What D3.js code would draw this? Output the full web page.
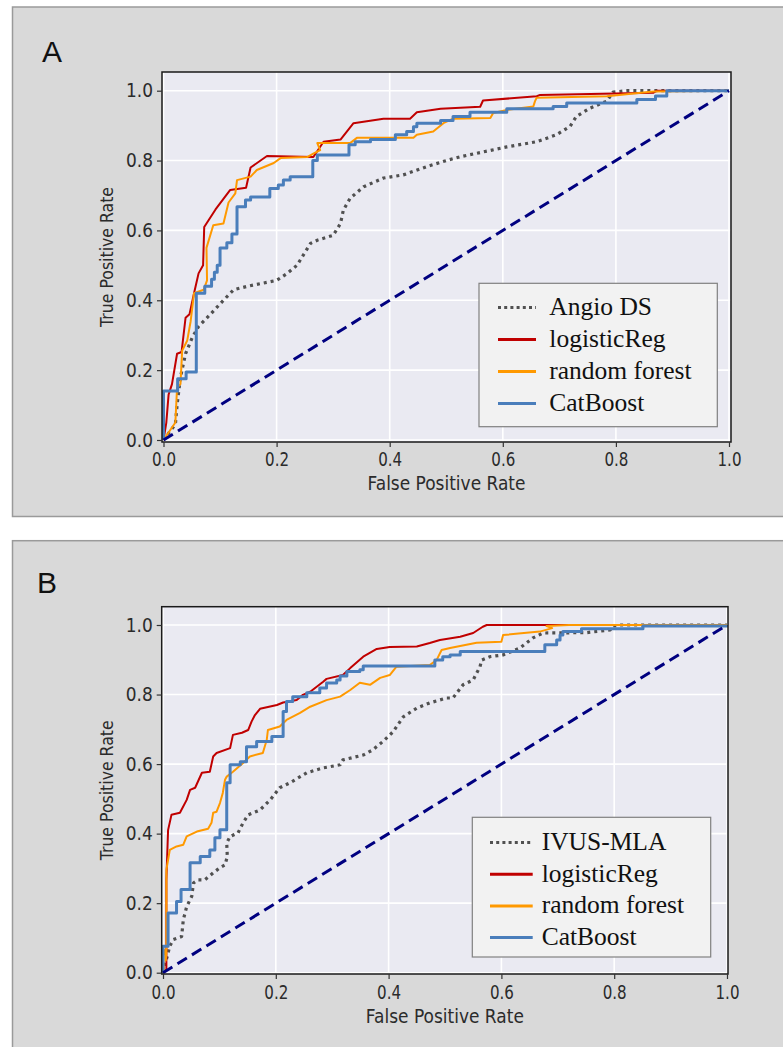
<!DOCTYPE html>
<html><head><meta charset="utf-8">
<script src="https://cdn.jsdelivr.net/npm/d3@7/dist/d3.min.js"></script>
<style>html,body{margin:0;padding:0;background:#fff;}</style>
</head><body>
<svg id="chart" width="783" height="1047"></svg>
<script>
// ---------------- DATA ----------------
const tickValues = [0, 0.2, 0.4, 0.6, 0.8, 1.0];
const xLabel = "False Positive Rate";
const yLabel = "True Positive Rate";
const namesA = ["Angio DS", "logisticReg", "random forest", "CatBoost"];
const namesB = ["IVUS-MLA", "logisticReg", "random forest", "CatBoost"];

// Panel A  [FPR, TPR]
const angioA = [[0,0],[0.021,0.045],[0.024,0.1],[0.03,0.18],[0.039,0.247],[0.051,0.294],[0.062,0.325],[0.083,0.36],[0.106,0.4],[0.124,0.43],[0.148,0.44],[0.2,0.457],[0.218,0.476],[0.236,0.5],[0.26,0.563],[0.272,0.572],[0.3,0.586],[0.313,0.62],[0.318,0.658],[0.33,0.692],[0.354,0.725],[0.389,0.75],[0.424,0.759],[0.466,0.783],[0.5,0.8],[0.525,0.811],[0.607,0.839],[0.66,0.854],[0.695,0.874],[0.719,0.898],[0.73,0.926],[0.754,0.95],[0.784,0.97],[0.795,0.996],[0.82,1.0],[1,1]];
const logRegA = [[0,0],[0.005,0.05],[0.009,0.13],[0.015,0.16],[0.024,0.247],[0.032,0.252],[0.039,0.35],[0.046,0.36],[0.054,0.42],[0.062,0.477],[0.07,0.5],[0.072,0.61],[0.08,0.63],[0.092,0.66],[0.118,0.716],[0.146,0.722],[0.154,0.78],[0.183,0.813],[0.265,0.81],[0.283,0.854],[0.313,0.86],[0.336,0.907],[0.389,0.92],[0.436,0.92],[0.448,0.938],[0.49,0.948],[0.56,0.954],[0.565,0.972],[0.66,0.984],[0.666,0.988],[0.866,0.994],[0.872,1.0],[1,1]];
const rfA = [[0,0],[0.021,0.05],[0.024,0.15],[0.03,0.16],[0.033,0.256],[0.042,0.285],[0.048,0.34],[0.054,0.42],[0.071,0.43],[0.077,0.457],[0.076,0.55],[0.088,0.615],[0.106,0.62],[0.115,0.68],[0.127,0.706],[0.13,0.744],[0.154,0.754],[0.165,0.773],[0.195,0.793],[0.207,0.807],[0.254,0.81],[0.265,0.82],[0.277,0.83],[0.272,0.85],[0.33,0.85],[0.342,0.865],[0.442,0.865],[0.448,0.874],[0.477,0.883],[0.495,0.907],[0.512,0.92],[0.578,0.922],[0.583,0.936],[0.607,0.945],[0.654,0.955],[0.657,0.97],[0.66,0.98],[0.784,0.984],[0.866,0.998],[1,1]];
const catA = [[0,0],[0,0.14],[0.025,0.175],[0.04,0.195],[0.058,0.42],[0.073,0.44],[0.085,0.46],[0.09,0.48],[0.095,0.5],[0.1,0.55],[0.112,0.565],[0.121,0.59],[0.13,0.668],[0.145,0.687],[0.154,0.696],[0.188,0.72],[0.203,0.73],[0.212,0.744],[0.224,0.754],[0.264,0.8],[0.272,0.816],[0.328,0.845],[0.339,0.854],[0.366,0.86],[0.41,0.874],[0.43,0.883],[0.442,0.897],[0.448,0.907],[0.49,0.915],[0.512,0.926],[0.542,0.938],[0.607,0.948],[0.689,0.955],[0.713,0.965],[0.837,0.975],[0.87,0.985],[0.89,1.0],[1,1]];

// Panel B  [FPR, TPR]
const ivusB = [[0,0],[0.012,0.076],[0.018,0.095],[0.033,0.104],[0.036,0.152],[0.042,0.19],[0.051,0.22],[0.054,0.258],[0.062,0.267],[0.074,0.267],[0.089,0.287],[0.101,0.302],[0.11,0.31],[0.114,0.334],[0.113,0.373],[0.119,0.392],[0.133,0.402],[0.142,0.431],[0.151,0.454],[0.172,0.468],[0.19,0.497],[0.207,0.532],[0.225,0.546],[0.255,0.575],[0.284,0.589],[0.314,0.598],[0.319,0.612],[0.355,0.626],[0.372,0.641],[0.39,0.665],[0.408,0.693],[0.426,0.736],[0.45,0.761],[0.473,0.776],[0.503,0.79],[0.514,0.79],[0.532,0.828],[0.55,0.842],[0.562,0.88],[0.565,0.899],[0.58,0.909],[0.603,0.914],[0.633,0.934],[0.656,0.963],[0.674,0.977],[0.751,0.978],[0.793,0.986],[0.798,0.997],[0.81,1.0],[1,1]];
const logRegB = [[0,0],[0.006,0.009],[0.006,0.267],[0.009,0.41],[0.015,0.454],[0.03,0.46],[0.042,0.497],[0.048,0.526],[0.057,0.532],[0.069,0.575],[0.083,0.578],[0.089,0.622],[0.095,0.632],[0.119,0.646],[0.124,0.684],[0.14,0.69],[0.151,0.698],[0.157,0.722],[0.163,0.741],[0.172,0.759],[0.202,0.77],[0.213,0.777],[0.237,0.784],[0.248,0.799],[0.261,0.808],[0.284,0.837],[0.29,0.845],[0.319,0.856],[0.332,0.876],[0.355,0.909],[0.379,0.931],[0.402,0.937],[0.45,0.938],[0.473,0.948],[0.491,0.957],[0.527,0.966],[0.55,0.977],[0.567,0.995],[0.574,1.0],[1,1]];
const rfB = [[0.002,0],[0,0.05],[0.003,0.065],[0.005,0.035],[0.006,0.06],[0.006,0.296],[0.012,0.353],[0.024,0.363],[0.036,0.368],[0.042,0.392],[0.06,0.406],[0.08,0.414],[0.086,0.431],[0.089,0.46],[0.095,0.463],[0.101,0.488],[0.106,0.517],[0.11,0.555],[0.113,0.564],[0.124,0.578],[0.142,0.603],[0.154,0.622],[0.177,0.632],[0.184,0.67],[0.186,0.698],[0.207,0.708],[0.219,0.727],[0.243,0.747],[0.261,0.765],[0.29,0.784],[0.314,0.794],[0.332,0.813],[0.349,0.834],[0.367,0.828],[0.385,0.848],[0.402,0.856],[0.414,0.88],[0.473,0.885],[0.485,0.899],[0.494,0.928],[0.509,0.934],[0.556,0.949],[0.6,0.952],[0.603,0.971],[0.668,0.981],[0.69,0.991],[0.68,0.997],[0.72,1.0],[1,1]];
const catB = [[0,0],[0,0.076],[0.009,0.172],[0.024,0.205],[0.032,0.239],[0.048,0.316],[0.066,0.334],[0.083,0.353],[0.092,0.388],[0.101,0.411],[0.113,0.546],[0.119,0.598],[0.137,0.607],[0.148,0.65],[0.166,0.665],[0.193,0.679],[0.213,0.751],[0.219,0.78],[0.23,0.794],[0.255,0.805],[0.278,0.819],[0.29,0.833],[0.308,0.842],[0.314,0.853],[0.326,0.866],[0.349,0.871],[0.355,0.882],[0.482,0.899],[0.496,0.909],[0.509,0.914],[0.527,0.924],[0.677,0.943],[0.698,0.957],[0.704,0.971],[0.709,0.981],[0.742,0.989],[0.851,0.997],[1,1],[1,1]];

const diagonal = [[0,0],[1,1]];

// ---------------- STYLES / LAYOUT ----------------
const styles = [
  {color:"#505050", width:3.2, dash:"3,4", step:false, legendDash:"3,3.2"},
  {color:"#c00000", width:2, dash:null, step:false},
  {color:"#ff9900", width:2, dash:null, step:false},
  {color:"#4a7ebb", width:3, dash:null, step:true}
];
const panels = [
  {letter:"A", names:namesA, series:[angioA, logRegA, rfA, catA],
   box:{x:12.5,y:7,w:800,h:509.5}, letterPos:[42,62],
   plot:{l:162,r:731,t:72,b:442}, x01:[163.5,729], y01:[440,90.7],
   xTickPad:6, xLabelY:490,
   legend:{x:479,y:283.3,w:238.3,h:143.4,sx0:498,sx1:536,tx:549.3,base0:315,step:32}},
  {letter:"B", names:namesB, series:[ivusB, logRegB, rfB, catB],
   box:{x:12.5,y:540.7,w:800,h:520}, letterPos:[37,593],
   plot:{l:161.7,r:728,t:606.7,b:974}, x01:[163,727], y01:[972.7,625],
   xTickPad:7, xLabelY:1023,
   legend:{x:472.3,y:817.3,w:238.4,h:139.7,sx0:490,sx1:532.7,tx:541.7,base0:850,step:31.7}}
];

const svg = d3.select("#chart");

panels.forEach((p, pi) => {
  const g = svg.append("g");
  g.append("rect").attr("x",p.box.x).attr("y",p.box.y).attr("width",p.box.w).attr("height",p.box.h)
    .attr("fill","#d9d9d9").attr("stroke","#9a9a9a").attr("stroke-width",1.5);
  g.append("text").attr("x",p.letterPos[0]).attr("y",p.letterPos[1]).text(p.letter)
    .attr("font-family","'Liberation Sans', Arial, sans-serif").attr("font-size",30).attr("fill","#111");

  const x = d3.scaleLinear().domain([0,1]).range(p.x01);
  const y = d3.scaleLinear().domain([0,1]).range(p.y01);
  const P = p.plot;

  g.append("rect").attr("x",P.l).attr("y",P.t).attr("width",P.r-P.l).attr("height",P.b-P.t).attr("fill","#eaeaf2");

  // grid
  g.append("g").selectAll("line").data(tickValues).join("line")
    .attr("x1",d=>x(d)).attr("x2",d=>x(d)).attr("y1",P.t).attr("y2",P.b)
    .attr("stroke","#ffffff").attr("stroke-width",1.6);
  g.append("g").selectAll("line").data(tickValues).join("line")
    .attr("x1",P.l).attr("x2",P.r).attr("y1",d=>y(d)).attr("y2",d=>y(d))
    .attr("stroke","#ffffff").attr("stroke-width",1.6);

  // clip
  const clipId = "clip"+pi;
  svg.append("defs").append("clipPath").attr("id",clipId).append("rect")
    .attr("x",P.l).attr("y",P.t).attr("width",P.r-P.l).attr("height",P.b-P.t);
  const lines = g.append("g").attr("clip-path",`url(#${clipId})`);

  p.series.forEach((data, i) => {
    const st = styles[i];
    const gen = d3.line().x(d=>x(d[0])).y(d=>y(d[1])).curve(st.step ? d3.curveStepAfter : d3.curveLinear);
    lines.append("path").datum(data).attr("d",gen).attr("fill","none")
      .attr("stroke",st.color).attr("stroke-width",st.width)
      .attr("stroke-dasharray",st.dash).attr("stroke-linejoin","round")
      .attr("stroke-linecap","butt");
  });
  const dgen = d3.line().x(d=>x(d[0])).y(d=>y(d[1]));
  lines.append("path").datum(diagonal).attr("d",dgen).attr("fill","none")
    .attr("stroke","#000080").attr("stroke-width",3).attr("stroke-dasharray","11,6");

  // frame
  g.append("rect").attr("x",P.l).attr("y",P.t).attr("width",P.r-P.l).attr("height",P.b-P.t)
    .attr("fill","none").attr("stroke","#1a1a1a").attr("stroke-width",1.5);

  // axes
  const fmt = d3.format(".1f");
  const xa = g.append("g").attr("transform",`translate(0,${P.b})`)
    .call(d3.axisBottom(x).tickValues(tickValues).tickFormat(fmt).tickSize(5).tickPadding(p.xTickPad));
  const ya = g.append("g").attr("transform",`translate(${P.l},0)`)
    .call(d3.axisLeft(y).tickValues(tickValues).tickFormat(fmt).tickSize(5).tickPadding(4));
  [xa, ya].forEach(a => {
    a.select(".domain").remove();
    a.selectAll(".tick line").attr("stroke","#333").attr("stroke-width",1.2);
    a.selectAll(".tick text").attr("fill","#2b2b2b")
      .attr("font-family","'DejaVu Sans', sans-serif").attr("font-size",19)
      .attr("lengthAdjust","spacingAndGlyphs");
  });
  xa.selectAll(".tick text").attr("textLength",24);
  ya.selectAll(".tick text").attr("textLength",27);

  const cx = (P.l+P.r)/2, cy = (P.t+P.b)/2;
  g.append("text").attr("x",cx).attr("y",p.xLabelY).attr("text-anchor","middle")
    .attr("font-family","'DejaVu Sans', sans-serif").attr("font-size",19.5).attr("fill","#2b2b2b")
    .attr("textLength",158).attr("lengthAdjust","spacingAndGlyphs").text(xLabel);
  g.append("text").attr("transform",`translate(113,${cy}) rotate(-90)`).attr("text-anchor","middle")
    .attr("font-family","'DejaVu Sans', sans-serif").attr("font-size",18).attr("fill","#2b2b2b")
    .attr("textLength",140).attr("lengthAdjust","spacingAndGlyphs").text(yLabel);

  // legend
  const L = p.legend;
  const lg = g.append("g");
  lg.append("rect").attr("x",L.x).attr("y",L.y).attr("width",L.w).attr("height",L.h)
    .attr("fill","#f2f2f2").attr("stroke","#808080").attr("stroke-width",1.2);
  p.names.forEach((nm, i) => {
    const st = styles[i];
    const base = L.base0 + i*L.step;
    lg.append("line").attr("x1",L.sx0).attr("x2",L.sx1).attr("y1",base-7.5).attr("y2",base-7.5)
      .attr("stroke",st.color).attr("stroke-width",3)
      .attr("stroke-dasharray",st.legendDash||null);
    lg.append("text").attr("x",L.tx).attr("y",base).text(nm)
      .attr("font-family","'Liberation Serif', 'Times New Roman', serif").attr("font-size",25.5).attr("fill","#111");
  });
});
</script>
</body></html>
